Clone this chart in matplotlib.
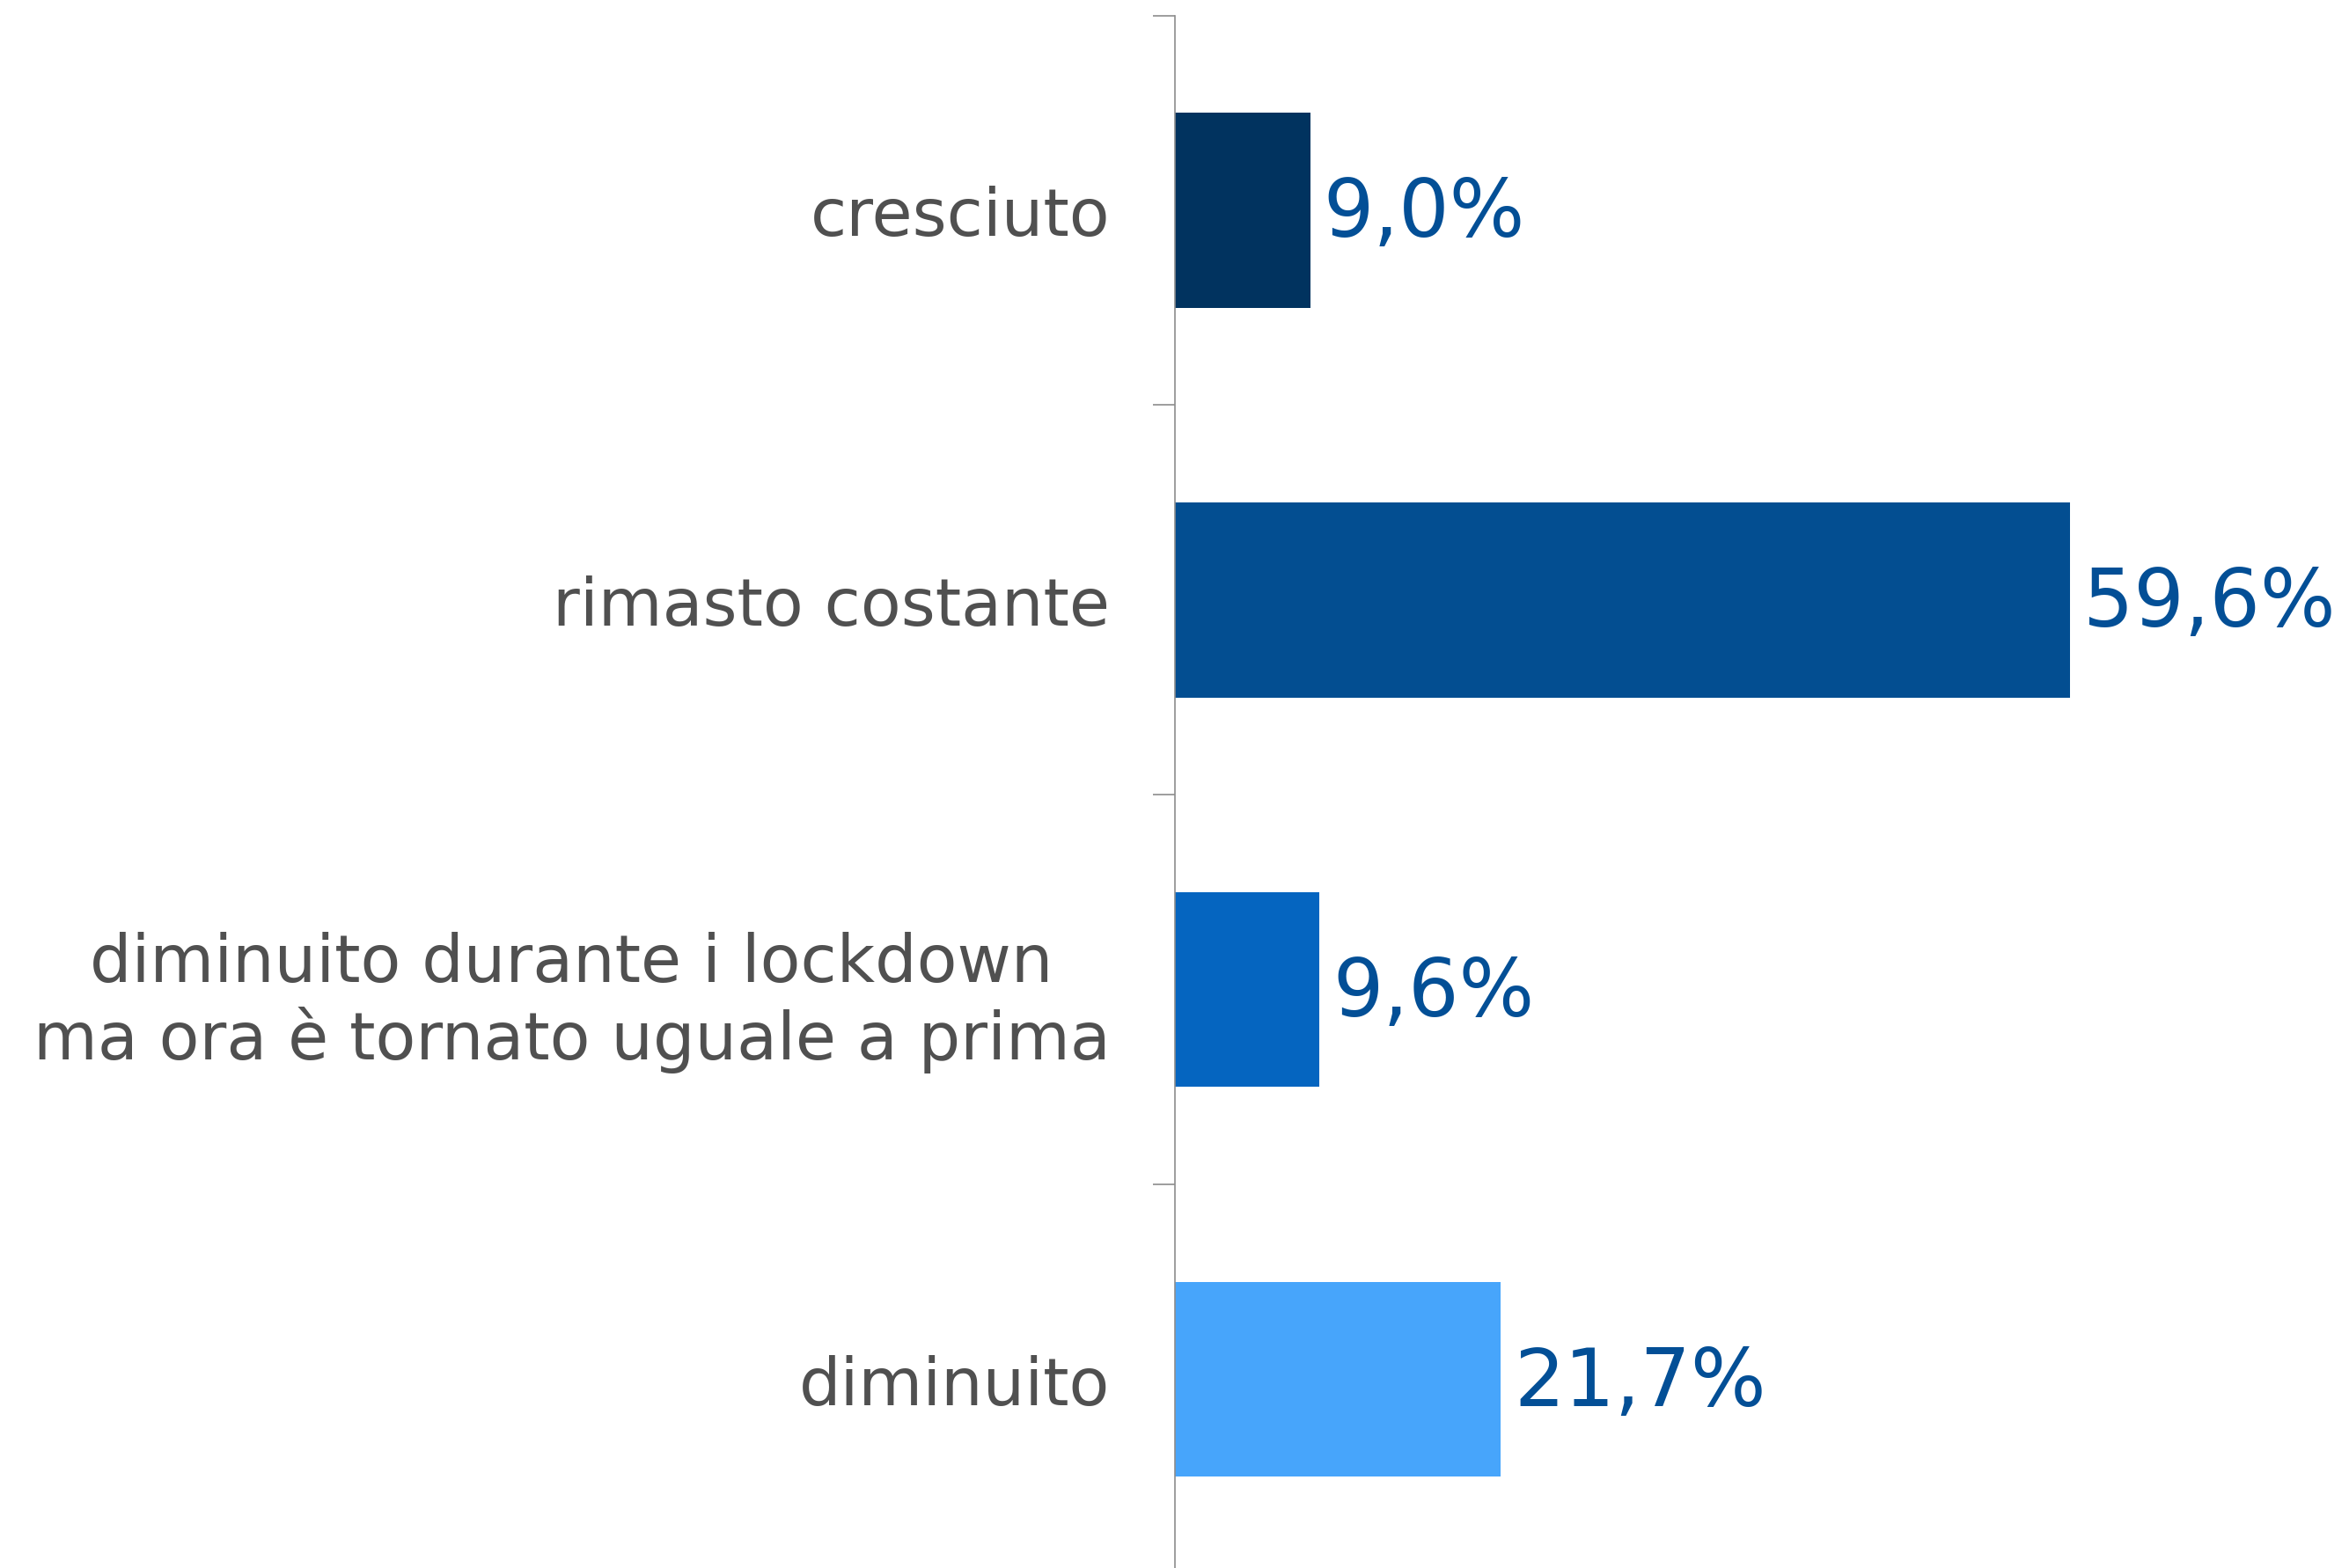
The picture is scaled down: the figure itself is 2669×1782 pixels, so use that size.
import matplotlib.pyplot as plt

categories = ['cresciuto', 'rimasto costante',
              'diminuito durante i lockdown\nma ora è tornato uguale a prima',
              'diminuito']
values = [9.0, 59.6, 9.6, 21.7]
colors = ['#01335F', '#034E91', '#0565C0', '#47A5FB']

fig = plt.figure(figsize=(26.69, 17.83), dpi=100)
ax = fig.add_axes([1335 / 2669, -0.004, 1 - 1335 / 2669, 1 - 18.5 / 1783 + 0.004])

pos = list(range(len(categories)))
bars = ax.barh(pos, values, height=0.5, color=colors)
ax.set_ylim(3.5, -0.5)
ax.set_xlim(0, 78.2)

# category boundaries get the tick marks, centres get the labels
ax.set_yticks([p - 0.5 for p in pos] + [3.5])
ax.set_yticks(pos, minor=True)
ax.set_yticklabels([], minor=False)
ax.set_yticklabels(categories, minor=True, fontsize=54, color='#505050',
                   ha='right', multialignment='center', linespacing=1.2)
ax.tick_params(axis='y', which='major', direction='out', length=18, width=1.2,
               color='#8C8C8C')
ax.tick_params(axis='y', which='minor', length=0, pad=53)
ax.set_xticks([])

for side in ['top', 'right', 'bottom']:
    ax.spines[side].set_visible(False)
ax.spines['left'].set_color('#8C8C8C')
ax.spines['left'].set_linewidth(1.2)

for b, v in zip(bars, values):
    ax.annotate(f'{v:.1f}%'.replace('.', ','),
                (b.get_width(), b.get_y() + b.get_height() / 2),
                xytext=(11, -3), textcoords='offset points',
                va='center', ha='left', fontsize=65, color='#034F96')

fig.savefig('out.png', dpi=100)
